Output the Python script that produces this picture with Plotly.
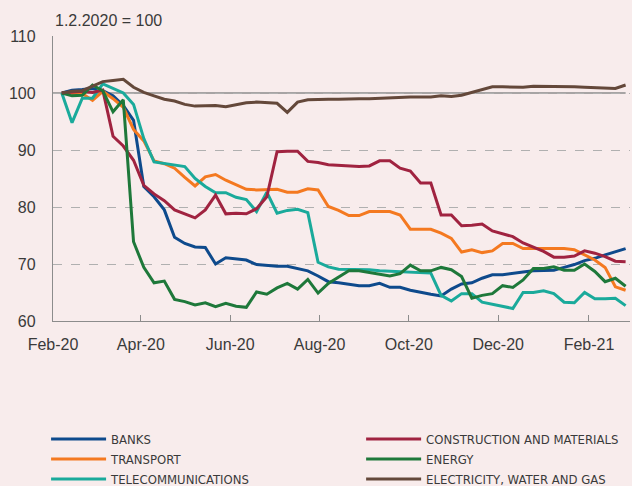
import pandas as pd
import plotly.graph_objects as go

# Weekly observations, index 1.2.2020 = 100
dates = pd.date_range("2020-02-07", periods=56, freq="7D")

banks = [100, 100.5, 100.6, 100.8, 100.4, 99.5, 97.8, 95.2, 83.6, 81.8,
         79.5, 74.7, 73.6, 73.0, 72.9, 70.0, 71.1, 70.9, 70.7, 69.9,
         69.7, 69.6, 69.6, 69.2, 68.8, 67.9, 66.9, 66.7, 66.4, 66.2,
         66.2, 66.6, 65.9, 65.9, 65.4, 65.0, 64.7, 64.4, 65.6, 66.5,
         66.7, 67.5, 68.1, 68.1, 68.4, 68.6, 68.8, 68.9, 68.9, 69.4,
         69.9, 70.6, 71.0, 71.6, 72.2, 72.7]

transport = [100, 99.8, 99.9, 98.7, 100.3, 99.0, 97.5, 93.6, 91.6, 88.1,
             87.6, 86.8, 85.2, 83.7, 85.3, 85.7, 84.7, 83.9, 83.1, 83.0,
             83.1, 83.1, 82.6, 82.6, 83.2, 83.0, 80.1, 79.4, 78.5, 78.5,
             79.2, 79.2, 79.2, 78.6, 76.1, 76.1, 76.1, 75.4, 74.5, 72.1,
             72.5, 72.0, 72.3, 73.6, 73.6, 72.7, 72.7, 72.7, 72.7, 72.7,
             72.5, 71.6, 70.7, 69.4, 66.0, 65.4]

telecom = [100, 94.8, 99.1, 99.1, 101.6, 100.8, 100.0, 98.0, 92.0, 87.9,
           87.6, 87.3, 87.1, 85.0, 83.6, 82.5, 82.5, 81.7, 81.3, 79.2,
           82.6, 78.9, 79.4, 79.6, 79.0, 70.3, 69.5, 69.1, 69.1, 69.1,
           69.0, 68.8, 68.7, 68.6, 68.6, 68.4, 68.4, 64.5, 63.5, 64.8,
           64.8, 63.3, 62.9, 62.6, 62.2, 65.0, 65.0, 65.3, 64.8, 63.3,
           63.2, 65.0, 63.9, 63.9, 64.0, 62.7]

construction = [100, 100.2, 100.3, 100.1, 100.5, 92.4, 90.7, 88.2, 83.8, 82.3,
                81.1, 79.5, 78.8, 78.1, 79.5, 82.1, 78.8, 78.9, 78.8, 79.7,
                81.8, 89.7, 89.8, 89.8, 88.0, 87.8, 87.4, 87.3, 87.1, 87.1,
                87.2, 88.1, 88.1, 86.8, 86.3, 84.2, 84.2, 78.6, 78.6, 76.7,
                76.8, 77.0, 75.8, 75.3, 74.8, 73.7, 73.0, 72.2, 71.2, 71.2,
                71.4, 72.3, 71.9, 71.3, 70.5, 70.4]

energy = [100, 99.5, 99.6, 101.4, 100.4, 96.7, 98.8, 73.9, 69.4, 66.7,
          67.0, 63.8, 63.4, 62.8, 63.2, 62.5, 63.1, 62.6, 62.4, 65.1,
          64.7, 65.8, 66.6, 65.6, 67.3, 64.9, 66.6, 67.7, 68.8, 68.8,
          68.5, 68.2, 67.9, 68.3, 69.8, 68.8, 68.8, 69.4, 69.0, 67.8,
          64.0, 64.5, 64.8, 66.2, 65.9, 67.2, 69.2, 69.2, 69.5, 68.9,
          68.9, 70.0, 68.7, 66.9, 67.5, 66.1]

electricity = [100, 100.3, 100.4, 101.2, 102.0, 102.2, 102.4, 101.0, 100.1, 99.5,
               98.9, 98.6, 98.0, 97.7, 97.8, 97.8, 97.6, 97.9, 98.3, 98.4,
               98.3, 98.2, 96.6, 98.4, 98.8, 98.9, 98.9, 98.9, 99.0, 99.0,
               99.0, 99.1, 99.1, 99.2, 99.3, 99.3, 99.3, 99.5, 99.4, 99.6,
               100.1, 100.7, 101.1, 101.1, 101.1, 101.0, 101.2, 101.2, 101.2, 101.1,
               101.1, 101.0, 100.9, 100.8, 100.8, 101.4]

series_names = ["BANKS", "TRANSPORT", "TELECOMMUNICATIONS",
                "CONSTRUCTION AND MATERIALS", "ENERGY", "ELECTRICITY, WATER AND GAS"]
series_values = [banks, transport, telecom, construction, energy, electricity]
series_colors = ["#0e4a8c", "#f47920", "#1aaa9b", "#a02340", "#1e783a", "#64483a"]
series_legend = ["legend", "legend", "legend", "legend2", "legend2", "legend2"]

y_ticks = [60, 70, 80, 90, 100, 110]
base_label = "1.2.2020 = 100"

BG = "#f8ecec"
TXT = "#3a3a3a"
AX = "#8c8c8c"
LEG_FONT = dict(family="Liberation Sans Narrow, Arial Narrow, DejaVu Sans Condensed, Roboto Condensed, sans-serif",
                size=13, color=TXT)

fig = go.Figure()
for name, vals, col, lg in zip(series_names, series_values, series_colors, series_legend):
    fig.add_trace(go.Scatter(x=dates, y=vals, name=name, mode="lines", legend=lg,
                             legendgroup=name, line=dict(color=col, width=3)))

fig.add_shape(type="line", xref="x", yref="y", x0="2020-02-01", x1=dates[-1],
              y0=100, y1=100, line=dict(color=AX, width=1.3), layer="below")

leg_common = dict(orientation="v", yanchor="top", xanchor="left",
                  itemwidth=55, bgcolor="rgba(0,0,0,0)", font=LEG_FONT,
                  traceorder="grouped", tracegroupgap=0, borderwidth=0)

fig.update_layout(
    width=632, height=486,
    paper_bgcolor=BG, plot_bgcolor=BG,
    margin=dict(l=53, r=2, t=36, b=165, autoexpand=False),
    font=dict(family="Liberation Sans, Arial, sans-serif", size=16, color=TXT),
    showlegend=True,
    legend=dict(x=-0.012, y=-0.362, **leg_common),
    legend2=dict(x=0.534, y=-0.362, **leg_common),
    annotations=[dict(text=base_label, x=0, y=1, xref="paper", yref="paper",
                      xanchor="left", yanchor="bottom", yshift=5, showarrow=False,
                      font=dict(size=16, color=TXT))],
)

fig.update_xaxes(type="date", range=["2020-02-01", "2021-03-01"],
                 dtick="M2", tick0="2020-02-01", tickformat="%b-%y",
                 showgrid=False, showline=True, linecolor=AX, linewidth=1.3,
                 ticks="inside", ticklen=6, tickcolor=AX, tickwidth=1.3,
                 ticklabelstandoff=9, zeroline=False)
fig.update_yaxes(range=[60, 110], tickvals=y_ticks, showgrid=True,
                 gridcolor="#b0b0b0", griddash="dash", gridwidth=1.2,
                 showline=True, linecolor=AX, linewidth=1.3,
                 ticks="outside", ticklen=13, tickcolor="rgba(0,0,0,0)",
                 zeroline=False)

fig.write_html("out.html", config={"displayModeBar": False},
               post_script="document.body.style.margin='0';document.body.style.padding='0';")
